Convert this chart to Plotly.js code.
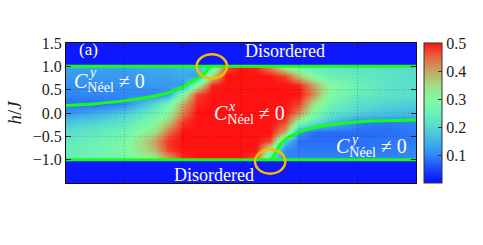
<!DOCTYPE html>
<html>
<head>
<meta charset="utf-8">
<script src="https://cdn.plot.ly/plotly-3.0.1.min.js"></script>
<style>html,body{margin:0;padding:0;background:#fff;}#chart{width:483px;height:245px;}</style>
</head>
<body>
<div id="chart"></div>
<script>
// ---- data ----
const xGrid = [0, 0.5, 1, 1.5, 1.75, 2, 2.25, 2.5, 2.75, 3, 3.25, 3.5, 3.75, 4, 4.25, 4.5, 5, 5.5, 6];
const hLevels = [-1.5, -1.01, -0.99, -0.8, -0.6, -0.4, -0.2, 0, 0.2, 0.4, 0.6, 0.8, 0.99, 1.01, 1.5];
const zOuter = [0.01, 0.01, 0.01, 0.01, 0.01, 0.01, 0.01, 0.01, 0.01, 0.01, 0.01, 0.01, 0.01, 0.01, 0.01, 0.01, 0.01, 0.01, 0.01];
const zRowM099 = [0.24, 0.25, 0.27, 0.32, 0.4, 0.48, 0.5, 0.5, 0.5, 0.5, 0.46, 0.2, 0.1, 0.1, 0.1, 0.1, 0.1, 0.1, 0.1];
const zRowM080 = [0.24, 0.26, 0.29, 0.38, 0.47, 0.5, 0.5, 0.5, 0.5, 0.5, 0.5, 0.3, 0.1, 0.09, 0.09, 0.09, 0.09, 0.09, 0.1];
const zRowM060 = [0.23, 0.25, 0.28, 0.4, 0.48, 0.5, 0.5, 0.5, 0.5, 0.5, 0.5, 0.47, 0.18, 0.08, 0.08, 0.08, 0.08, 0.09, 0.09];
const zRowM040 = [0.21, 0.23, 0.26, 0.34, 0.44, 0.5, 0.5, 0.5, 0.5, 0.5, 0.5, 0.5, 0.4, 0.12, 0.08, 0.08, 0.08, 0.08, 0.09];
const zRowM020 = [0.17, 0.19, 0.22, 0.29, 0.37, 0.48, 0.5, 0.5, 0.5, 0.5, 0.5, 0.5, 0.47, 0.3, 0.22, 0.17, 0.1, 0.09, 0.1];
const zRow000 = [0.12, 0.14, 0.18, 0.25, 0.31, 0.43, 0.5, 0.5, 0.5, 0.5, 0.5, 0.5, 0.5, 0.42, 0.29, 0.23, 0.19, 0.17, 0.16];
const zRow020 = [0.08, 0.08, 0.1, 0.2, 0.27, 0.4, 0.49, 0.5, 0.5, 0.5, 0.5, 0.5, 0.5, 0.47, 0.34, 0.26, 0.21, 0.19, 0.18];
const zRow040 = [0.1, 0.1, 0.1, 0.1, 0.12, 0.3, 0.47, 0.5, 0.5, 0.5, 0.5, 0.5, 0.5, 0.5, 0.42, 0.3, 0.24, 0.22, 0.21];
const zRow060 = [0.11, 0.11, 0.11, 0.12, 0.12, 0.12, 0.3, 0.49, 0.5, 0.5, 0.5, 0.5, 0.5, 0.49, 0.4, 0.31, 0.25, 0.22, 0.21];
const zRow080 = [0.12, 0.12, 0.12, 0.13, 0.13, 0.14, 0.13, 0.35, 0.5, 0.5, 0.5, 0.5, 0.47, 0.37, 0.29, 0.25, 0.23, 0.22, 0.21];
const zRow099 = [0.13, 0.13, 0.13, 0.14, 0.14, 0.15, 0.15, 0.25, 0.46, 0.5, 0.49, 0.42, 0.32, 0.27, 0.24, 0.23, 0.22, 0.21, 0.2];

const boundaryH = [-1, 1];
const leftCurveX = [0, 0.5, 1.0, 1.5, 1.75, 2.07, 2.25, 2.36, 2.47];
const leftCurveH = [0.16, 0.2, 0.26, 0.36, 0.43, 0.61, 0.74, 0.83, 1.0];
const rightCurveX = [3.53, 3.6, 3.67, 3.8, 3.96, 4.2, 4.53, 5.1, 5.5, 6];
const rightCurveH = [-1.0, -0.83, -0.68, -0.53, -0.43, -0.33, -0.25, -0.18, -0.165, -0.15];
const criticalX = [2.5, 3.5];
const criticalH = [1.0, -1.04];
const criticalRadius = 0.26;

const yTickVals = [-1, -0.5, 0, 0.5, 1, 1.5];
const xTickVals = [1, 2, 3, 4, 5];
const cbTickVals = [0.1, 0.2, 0.3, 0.4, 0.5];

// ---- build ----
const zRows = [zOuter, zOuter, zRowM099, zRowM080, zRowM060, zRowM040, zRowM020, zRow000,
               zRow020, zRow040, zRow060, zRow080, zRow099, zOuter, zOuter];

const colorscale = [
  [0.0, 'rgb(10,12,255)'],
  [0.1, 'rgb(25,70,250)'],
  [0.2, 'rgb(50,135,245)'],
  [0.3, 'rgb(65,180,232)'],
  [0.4, 'rgb(85,218,208)'],
  [0.5, 'rgb(108,240,182)'],
  [0.6, 'rgb(130,250,160)'],
  [0.7, 'rgb(162,220,130)'],
  [0.8, 'rgb(196,165,100)'],
  [0.9, 'rgb(232,100,60)'],
  [1.0, 'rgb(255,18,18)']
];

const serif = 'Liberation Serif, Times New Roman, serif';
const green = '#14ff14';
const xMin = xGrid[0], xMax = xGrid[xGrid.length - 1];

const traces = [
  {
    type: 'heatmap', x: xGrid, y: hLevels, z: zRows,
    zmin: 0, zmax: 0.5, zsmooth: 'best', colorscale: colorscale,
    hoverinfo: 'skip',
    colorbar: {
      x: 1.0229, xanchor: 'left', xpad: 0, ypad: 0,
      y: 0.5, yanchor: 'middle', len: 1, lenmode: 'fraction',
      thickness: 18, outlinewidth: 1, outlinecolor: '#333',
      tickvals: cbTickVals, tickformat: '.1f', ticks: 'inside', ticklen: 4,
      tickcolor: '#333', tickfont: {family: serif, size: 16, color: '#222'}
    }
  },
  {type: 'scatter', mode: 'lines', x: [xMin, xMax], y: [boundaryH[1], boundaryH[1]],
   line: {color: green, width: 3}, hoverinfo: 'skip'},
  {type: 'scatter', mode: 'lines', x: [xMin, xMax], y: [boundaryH[0], boundaryH[0]],
   line: {color: green, width: 3}, hoverinfo: 'skip'},
  {type: 'scatter', mode: 'lines', x: leftCurveX, y: leftCurveH,
   line: {color: green, width: 3, shape: 'spline'}, hoverinfo: 'skip'},
  {type: 'scatter', mode: 'lines', x: rightCurveX, y: rightCurveH,
   line: {color: green, width: 3, shape: 'spline'}, hoverinfo: 'skip'}
];

const shapes = [];
xTickVals.forEach(v => shapes.push({type: 'line', xref: 'x', yref: 'paper', x0: v, x1: v, y0: 0, y1: 1,
  layer: 'above', line: {color: 'rgba(0,0,0,0.35)', width: 0.7, dash: '1px,2px'}}));
yTickVals.filter(v => Math.abs(v) < 0.99).forEach(v => shapes.push({type: 'line', xref: 'paper', yref: 'y', x0: 0, x1: 1, y0: v, y1: v,
  layer: 'above', line: {color: 'rgba(0,0,0,0.35)', width: 0.7, dash: '1px,2px'}}));
criticalX.forEach((cx, i) => shapes.push({type: 'circle', xref: 'x', yref: 'y', layer: 'above',
  x0: cx - criticalRadius, x1: cx + criticalRadius, y0: criticalH[i] - criticalRadius, y1: criticalH[i] + criticalRadius,
  line: {color: '#f7bb00', width: 2.5}}));

const white = {family: serif, size: 18, color: 'white'};
const whiteBig = {family: serif, size: 20, color: 'white'};
const whiteSup = {family: serif, size: 14, color: 'white'};
const annotations = [
  {x: 0.38, y: 1.37, text: '(a)', showarrow: false, font: {family: serif, size: 17, color: 'white'}},
  {x: 3.76, y: 1.32, text: 'Disordered', showarrow: false, font: white},
  {x: 2.54, y: -1.32, text: 'Disordered', showarrow: false, font: white},
  {x: 0.1, y: 0.65, xanchor: 'left', text: '<i>C</i><sub>Néel</sub> ≠ 0', showarrow: false, font: whiteBig},
  {x: 0.35, y: 0.86, xanchor: 'left', text: '<i>y</i>', showarrow: false, font: whiteSup},
  {x: 2.5, y: -0.04, xanchor: 'left', text: '<i>C</i><sub>Néel</sub> ≠ 0', showarrow: false, font: whiteBig},
  {x: 2.75, y: 0.13, xanchor: 'left', text: '<i>x</i>', showarrow: false, font: whiteSup},
  {x: 4.59, y: -0.74, xanchor: 'left', text: '<i>C</i><sub>Néel</sub> ≠ 0', showarrow: false, font: whiteBig},
  {x: 4.84, y: -0.56, xanchor: 'left', text: '<i>y</i>', showarrow: false, font: whiteSup}
];

const layout = {
  width: 483, height: 245,
  margin: {l: 66, r: 67, t: 43, b: 62, pad: 0},
  paper_bgcolor: 'white', plot_bgcolor: 'white',
  showlegend: false,
  xaxis: {range: [xMin, xMax], tickvals: xTickVals, showticklabels: false, ticks: 'inside', ticklen: 4,
          tickcolor: '#222', showgrid: false, zeroline: false, showline: true, mirror: 'ticks',
          linecolor: '#111', linewidth: 1, layer: 'above traces'},
  yaxis: {range: [-1.5, 1.5], tickvals: yTickVals, tickformat: '.1f', ticks: 'inside', ticklen: 5,
          tickcolor: '#222', showgrid: false, zeroline: false, showline: true, mirror: 'ticks',
          linecolor: '#111', linewidth: 1, layer: 'above traces',
          tickfont: {family: serif, size: 16, color: '#222'},
          title: {text: '<i>h</i>/<i>J</i>', font: {family: serif, size: 19, color: '#222'}, standoff: 6}},
  shapes: shapes,
  annotations: annotations
};

Plotly.newPlot('chart', traces, layout, {staticPlot: true, displayModeBar: false});
</script>
</body>
</html>
